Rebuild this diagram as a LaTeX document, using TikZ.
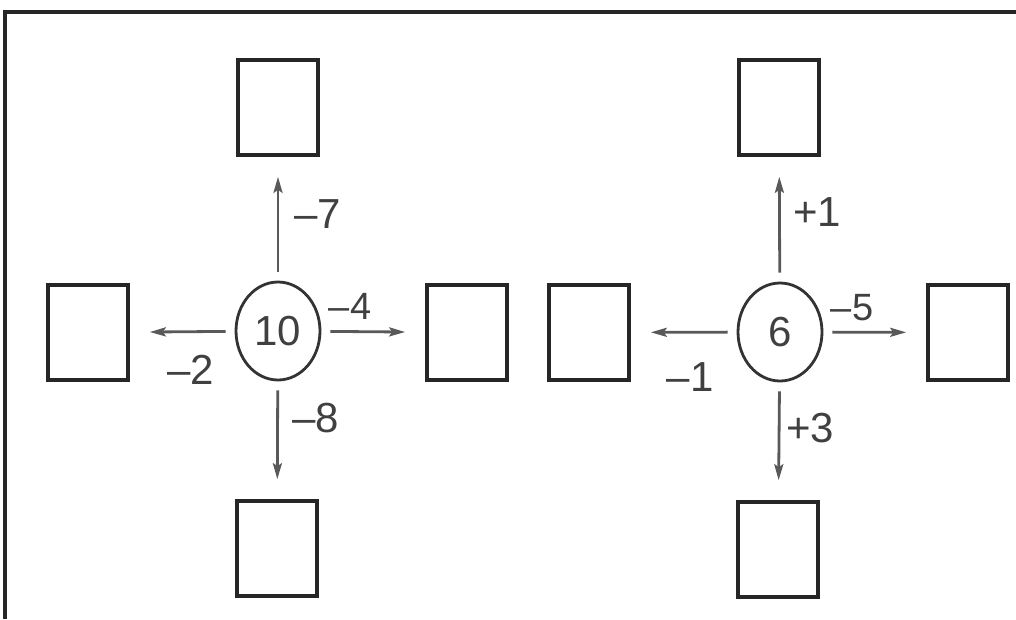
\documentclass[tikz,border=0pt]{standalone}
\usepackage{fontspec}
\setmainfont{Liberation Sans}
\usetikzlibrary{arrows.meta,shapes.geometric}

\begin{document}
\begin{tikzpicture}[
  x=1pt, y=-1pt,
  font=\fontsize{42}{48}\selectfont,
  emptybox/.style={draw=black!85, line width=3.6pt, rectangle, inner sep=0pt,
    minimum width=80pt, minimum height=95pt},
  startval/.style={draw=black!80, line width=2.8pt, ellipse, inner sep=0pt,
    minimum width=84pt, minimum height=98pt, text=black!75},
  move/.style={draw=black!65, line width=2.8pt,
    -{Stealth[length=16pt,width=9pt,inset=3pt]},
    shorten <=9pt, shorten >=20pt},
  steplabel/.style={text=black!75, inner sep=0pt},
  small/.style={font=\fontsize{38}{44}\selectfont}
]
\useasboundingbox (0,0) rectangle (1016,619);
% frame
\draw[line width=3.6pt, black!85] (5,619) -- (5,12) -- (1016,12);

% left cross
\node[startval] (start10) at (278,331) {10};
\node[emptybox] (up10) at (278,107.5) {};
\node[emptybox] (left10) at (88,332.5) {};
\node[emptybox] (right10) at (467,332.5) {};
\node[emptybox] (down10) at (277,548.5) {};
\draw[move] (start10) -- (up10);
\draw[move] (start10) -- (left10);
\draw[move] (start10) -- (right10);
\draw[move] (start10) -- (down10);
\node[steplabel] (l7) at (318,214) {–7};
\node[steplabel, small] (l4) at (350,306) {–4};
\node[steplabel] (l2) at (191,370) {–2};
\node[steplabel] (l8) at (316,418) {–8};

% right cross
\node[startval] (start6) at (780,332) {6};
\node[emptybox] (up6) at (779,107.5) {};
\node[emptybox] (left6) at (589,332.5) {};
\node[emptybox] (right6) at (968,332.5) {};
\node[emptybox] (down6) at (778,549.5) {};
\draw[move] (start6) -- (up6);
\draw[move] (start6) -- (left6);
\draw[move] (start6) -- (right6);
\draw[move] (start6) -- (down6);
\node[steplabel] (p1) at (817,212) {+1};
\node[steplabel, small] (l5) at (852,308) {–5};
\node[steplabel] (l1) at (690,377) {–1};
\node[steplabel] (p3) at (810,428) {+3};
\end{tikzpicture}
\end{document}
